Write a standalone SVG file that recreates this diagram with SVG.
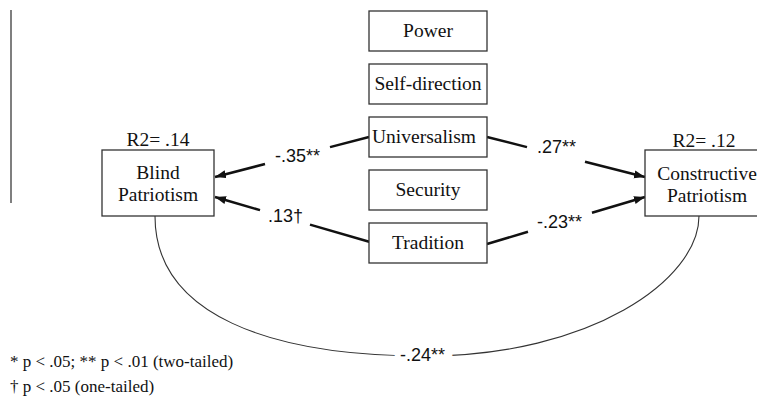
<svg xmlns="http://www.w3.org/2000/svg" width="757" height="397" viewBox="0 0 757 397">
<defs>
<marker id="ah" markerUnits="userSpaceOnUse" markerWidth="12" markerHeight="9" refX="11" refY="4" orient="auto">
<path d="M0,0 L11,4 L0,8 z" fill="#111"/>
</marker>
<style>
.box{fill:#fff;stroke:#333;stroke-width:1.3}
.bt{font-family:"Liberation Serif",serif;font-size:19.5px;fill:#111;text-anchor:middle}
.coef{font-family:"Liberation Sans",sans-serif;font-size:18px;fill:#111}
.arr{stroke:#111;stroke-width:2.5;fill:none}
.curve{stroke:#333;stroke-width:1.1;fill:none}
.note{font-family:"Liberation Serif",serif;font-size:17px;fill:#111}
</style>
</defs>
<rect width="757" height="397" fill="#fff"/>
<line x1="11" y1="10" x2="11" y2="203" stroke="#555" stroke-width="1.5"/>

<g id="connectors">
<path class="arr" d="M369,137 L330,147.1"/>
<path class="arr" d="M265,164 L215,177" marker-end="url(#ah)"/>
<path class="arr" d="M370,242 L310,224.6"/>
<path class="arr" d="M260,210.1 L215,197" marker-end="url(#ah)"/>
<path class="arr" d="M487,137 L527,147.1"/>
<path class="arr" d="M585,161.8 L645,177" marker-end="url(#ah)"/>
<path class="arr" d="M487,244 L528,231.8"/>
<path class="arr" d="M592,212.8 L645,197" marker-end="url(#ah)"/>
<path class="curve" d="M155,216 C155,315 270,356 425,356 C590,356 699,280 699,216"/>
<text class="coef" x="275" y="162">-.35**</text>
<text class="coef" x="268" y="222">.13†</text>
<text class="coef" x="537" y="153">.27**</text>
<text class="coef" x="537" y="228">-.23**</text>
<text class="coef" x="400" y="361" stroke="#fff" stroke-width="12" paint-order="stroke">-.24**</text>
</g>

<g id="blind">
<text class="bt" x="158" y="146">R2= .14</text>
<rect class="box" x="102" y="150" width="112" height="66"/>
<text class="bt" x="158" y="179">Blind</text>
<text class="bt" x="158" y="201">Patriotism</text>
</g>

<g id="constructive">
<text class="bt" x="704" y="146.5">R2= .12</text>
<rect class="box" x="645" y="150" width="124" height="66"/>
<text class="bt" x="707" y="180">Constructive</text>
<text class="bt" x="707" y="202">Patriotism</text>
</g>

<g id="power">
<rect class="box" x="369" y="11" width="118" height="40"/>
<text class="bt" x="428" y="37">Power</text>
</g>
<g id="selfdirection">
<rect class="box" x="369" y="64" width="118" height="40"/>
<text class="bt" x="428" y="90">Self-direction</text>
</g>
<g id="universalism">
<rect class="box" x="369" y="117" width="118" height="40"/>
<text class="bt" x="424" y="143">Universalism</text>
</g>
<g id="security">
<rect class="box" x="369" y="170" width="118" height="40"/>
<text class="bt" x="428" y="196">Security</text>
</g>
<g id="tradition">
<rect class="box" x="369" y="223" width="118" height="40"/>
<text class="bt" x="428" y="249">Tradition</text>
</g>

<text class="note" x="10" y="367">* p &lt; .05; ** p &lt; .01 (two-tailed)</text>
<text class="note" x="10" y="392">† p &lt; .05 (one-tailed)</text>
</svg>
